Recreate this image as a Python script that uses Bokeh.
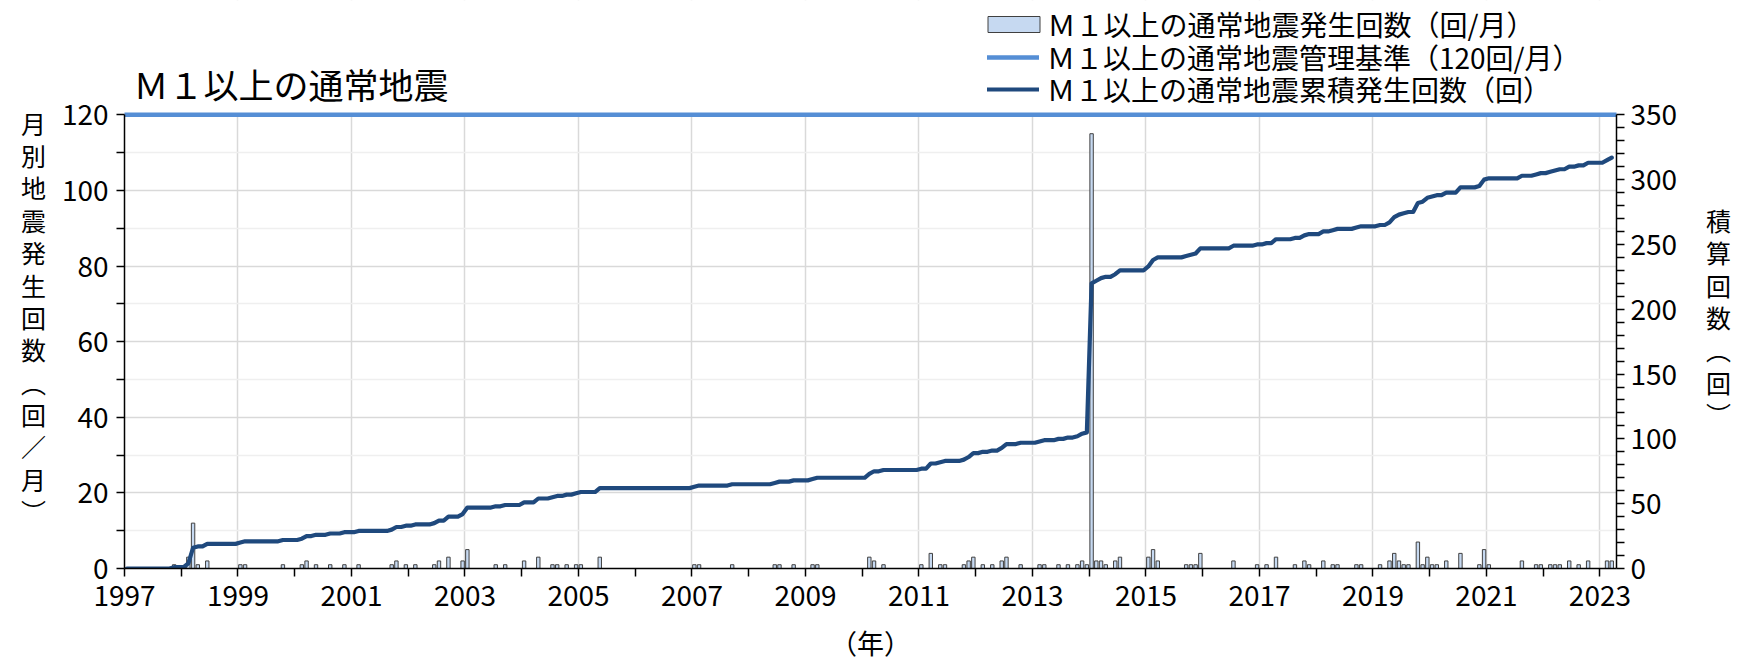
from bokeh.plotting import figure
from bokeh.models import (Range1d, LinearAxis, FixedTicker, Legend, LegendItem, Label,
                          ColumnDataSource, CustomJSTickFormatter, BoxAnnotation)
from bokeh.embed import file_html
from bokeh.resources import INLINE

FONT = "Noto Sans CJK JP"

first_year = 1997
last_month = "2023-03"
x_years = list(range(1997, 2024))

# Monthly counts of M>=1 normal earthquakes (only non-zero months)
quake_months = [
    "1997-11", "1998-02", "1998-03", "1998-04", "1998-06",
    "1999-01", "1999-02", "1999-10",
    "2000-02", "2000-03", "2000-05", "2000-08", "2000-11",
    "2001-02", "2001-09", "2001-10", "2001-12",
    "2002-02", "2002-06", "2002-07", "2002-09", "2002-12",
    "2003-01", "2003-07", "2003-09",
    "2004-01", "2004-04", "2004-07", "2004-08", "2004-10", "2004-12",
    "2005-01", "2005-05",
    "2007-01", "2007-02", "2007-09",
    "2008-06", "2008-07", "2008-10",
    "2009-02", "2009-03",
    "2010-02", "2010-03", "2010-05",
    "2011-01", "2011-03", "2011-05", "2011-06", "2011-10", "2011-11", "2011-12",
    "2012-02", "2012-04", "2012-06", "2012-07", "2012-10",
    "2013-02", "2013-03", "2013-06", "2013-08", "2013-10", "2013-11", "2013-12",
    "2014-01", "2014-02", "2014-03", "2014-04", "2014-06", "2014-07",
    "2015-01", "2015-02", "2015-03", "2015-09", "2015-10", "2015-11", "2015-12",
    "2016-07", "2016-12",
    "2017-02", "2017-04", "2017-08", "2017-10", "2017-11",
    "2018-02", "2018-04", "2018-05", "2018-09", "2018-10",
    "2019-02", "2019-04", "2019-05", "2019-06", "2019-07", "2019-08", "2019-10", "2019-11", "2019-12",
    "2020-01", "2020-02", "2020-04", "2020-07", "2020-11", "2020-12",
    "2021-01", "2021-08", "2021-11", "2021-12",
    "2022-02", "2022-03", "2022-04", "2022-06", "2022-08", "2022-10",
    "2023-02", "2023-03",
]
quake_counts = [
    1, 3, 12, 1, 2,
    1, 1, 1,
    1, 2, 1, 1, 1,
    1, 1, 2, 1,
    1, 1, 2, 3, 2,
    5, 1, 1,
    2, 3, 1, 1, 1, 1,
    1, 3,
    1, 1, 1,
    1, 1, 1,
    1, 1,
    3, 2, 1,
    1, 4, 1, 1, 1, 2, 3,
    1, 1, 2, 3, 1,
    1, 1, 1, 1, 1, 2, 1,
    115, 2, 2, 1, 2, 3,
    3, 5, 2, 1, 1, 1, 4,
    2, 1,
    1, 3, 1, 2, 1,
    2, 1, 1, 1, 1,
    1, 2, 4, 2, 1, 1, 7, 1, 3,
    1, 1, 2, 4, 1, 5,
    1, 2, 1, 1,
    1, 1, 1, 2, 1, 2,
    2, 2,
]
threshold = 120          # 管理基準（回/月）
left_max = 120
right_max = 350


def month_index(s):
    y, m = s.split("-")
    return (int(y) - first_year) * 12 + int(m) - 1


n_months = month_index(last_month) + 1
idx = [month_index(s) for s in quake_months]
monthly = [0] * n_months
for i, c in zip(idx, quake_counts):
    monthly[i] += c
cum = []
total = 0
for c in monthly:
    total += c
    cum.append(total)

bar_src = ColumnDataSource(dict(x=[i + 0.5 for i in idx], top=quake_counts))
cum_src = ColumnDataSource(dict(x=[i + 0.5 for i in range(n_months)], y=cum))

# layout (pixels)
W, H = 1740, 667
FL, FR, FB = 124, 1616, 568          # frame left / right / bottom; frame top = canvas top
px_per_unit = 453.7 / left_max
x_end = n_months + 0.5
y_end = FB / px_per_unit

p = figure(width=W, height=H, output_backend="svg", toolbar_location=None,
           x_range=Range1d(0, x_end), y_range=Range1d(0, y_end),
           min_border_left=FL, min_border_right=W - FR, min_border_top=0,
           min_border_bottom=H - FB,
           outline_line_color=None, background_fill_color="white")
p.extra_y_ranges = {"cum": Range1d(0, y_end * right_max / left_max)}

year_ticks = [(y - first_year) * 12 for y in x_years]
left_ticker = FixedTicker(ticks=list(range(0, left_max + 1, 20)),
                          minor_ticks=list(range(10, left_max, 20)))
right_ticker = FixedTicker(ticks=list(range(0, right_max + 1, 50)),
                           minor_ticks=[v for v in range(0, right_max + 1, 10) if v % 50])

AX_LABEL_PX = 25
line_h = 32 / (34.2 * AX_LABEL_PX / 24)
blank = "\u3000"

xa = p.xaxis[0]
xa.ticker = FixedTicker(ticks=year_ticks, minor_ticks=[])
xa.formatter = CustomJSTickFormatter(
    code="const y = 1997 + Math.round(tick / 12); return (y % 2 == 1) ? String(y) : '';")
xa.axis_label = "（年）"
xa.axis_label_standoff = 14

ya = p.yaxis[0]
ya.ticker = left_ticker
ya.bounds = (0, left_max)
ya.axis_label = "\n".join([blank, blank] + list("月別地震発生回数︵回／月︶"))
ya.axis_label_orientation = "horizontal"
ya.axis_label_text_line_height = line_h
ya.axis_label_standoff = 13

ra = LinearAxis(y_range_name="cum", ticker=right_ticker, bounds=(0, right_max))
ra.axis_label = "\n".join([blank, blank] + list("積算回数︵回︶"))
ra.axis_label_orientation = "horizontal"
ra.axis_label_text_line_height = line_h
ra.axis_label_standoff = 26
p.add_layout(ra, "right")

for ax in (xa, ya, ra):
    ax.axis_line_color = "black"
    ax.axis_line_width = 1.5
    ax.major_tick_line_color = "black"
    ax.minor_tick_line_color = "black"
    ax.major_tick_line_width = 1.5
    ax.minor_tick_line_width = 1.5
    ax.major_tick_in = 0
    ax.major_tick_out = 8
    ax.minor_tick_in = 0
    ax.minor_tick_out = 8
    ax.major_label_text_font = FONT
    ax.major_label_text_font_size = "28px"
    ax.major_label_text_color = "black"
    ax.axis_label_text_font = FONT
    ax.axis_label_text_font_size = f"{AX_LABEL_PX}px"
    ax.axis_label_text_font_style = "normal"
    ax.axis_label_text_color = "black"
xa.axis_label_text_font_size = "27px"
xa.major_label_standoff = 8
ya.major_label_standoff = 8
ra.major_label_standoff = 6

p.xgrid.ticker = FixedTicker(ticks=[t for t in year_ticks[1:] if (t // 12) % 2 == 0])
p.xgrid.grid_line_color = "#D9D9D9"
p.xgrid.grid_line_width = 1.5
p.ygrid.ticker = left_ticker
p.ygrid.grid_line_color = "#D9D9D9"
p.ygrid.grid_line_width = 1.5
p.ygrid.minor_grid_line_color = "#EFEFEF"
p.ygrid.minor_grid_line_width = 1.5

# blank out the area above the plot (title / legend area)
p.add_layout(BoxAnnotation(bottom=left_max, fill_color="white", fill_alpha=1.0,
                           line_color=None, level="underlay"))

bars = p.vbar(x="x", top="top", bottom=0, width=0.72, source=bar_src,
              fill_color="#C6D9F1", line_color="#404040", line_width=1)
cl = p.line("x", "y", source=cum_src, y_range_name="cum", line_color="#1F497D",
            line_width=4.2, line_join="round", line_cap="round")
thr = p.line(x=[0, x_end], y=[threshold, threshold], line_color="#558ED5",
             line_width=4.5, line_cap="round")

common = dict(padding=0, margin=0, border_line_color=None, background_fill_alpha=0,
              label_text_font=FONT, label_text_font_size="28px", label_text_color="black")
legA = Legend(items=[LegendItem(label="Ｍ１以上の通常地震発生回数（回/月）", renderers=[bars])],
              location=(980.5 - FL, FB - 43.5), glyph_width=65, glyph_height=20,
              label_height=20, label_standoff=2, **common)
legB = Legend(items=[LegendItem(label="Ｍ１以上の通常地震管理基準（120回/月）", renderers=[thr])],
              location=(987 - FL, FB - 77), glyph_width=52, glyph_height=40,
              label_height=40, label_standoff=8, **common)
legC = Legend(items=[LegendItem(label="Ｍ１以上の通常地震累積発生回数（回）", renderers=[cl])],
              location=(987 - FL, FB - 109), glyph_width=52, glyph_height=40,
              label_height=40, label_standoff=8, **common)
for lg in (legA, legB, legC):
    p.add_layout(lg)

p.add_layout(Label(x=133 - FL, y=FB - 83, x_units="screen", y_units="screen",
                   text="Ｍ１以上の通常地震", text_font=FONT, text_font_size="35px",
                   text_baseline="middle", text_color="black"))

open("out.html", "w").write(file_html(p, INLINE))
